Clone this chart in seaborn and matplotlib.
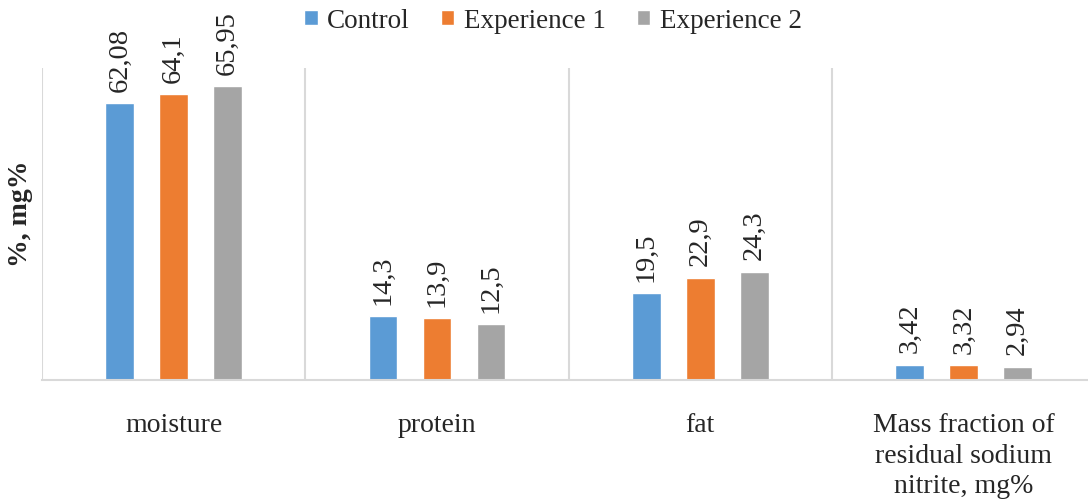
import seaborn as sns
import pandas as pd
import matplotlib.pyplot as plt

categories = ["moisture", "protein", "fat",
              "Mass fraction of\nresidual sodium\nnitrite, mg%"]
groups = ["Control", "Experience 1", "Experience 2"]
control = [62.08, 14.3, 19.5, 3.42]
exp1 = [64.1, 13.9, 22.9, 3.32]
exp2 = [65.95, 12.5, 24.3, 2.94]
colors = ["#5B9BD5", "#ED7D31", "#A5A5A5"]

rows = []
for g, vals in zip(groups, [control, exp1, exp2]):
    for c, v in zip(categories, vals):
        rows.append({"category": c, "group": g, "value": v})
df = pd.DataFrame(rows)

sns.set_theme(style="white")
plt.rcParams['font.family'] = ['Liberation Serif', 'DejaVu Serif']

fig = plt.figure(figsize=(10.88, 5.02), dpi=100)
ax = fig.add_axes([42 / 1088, 1 - 381 / 502, 1046 / 1088, 312 / 502])

sns.barplot(data=df, x="category", y="value", hue="group", order=categories,
            hue_order=groups, palette=colors, width=0.615, gap=0.47,
            saturation=1, ax=ax, legend=True)

for cont, vals in zip(ax.containers, [control, exp1, exp2]):
    labels = [f"{v:g}".replace('.', ',') for v in vals]
    ax.bar_label(cont, labels=labels, rotation=90, padding=9, fontsize=20.5)

ax.set_xlim(-0.5, -0.5 + 1046 / 263.3)
ax.set_ylim(0, 70)
ax.set_yticks([])
for x in [-0.5, 0.5, 1.5, 2.5, 3.5]:
    ax.axvline(x, color="#d9d9d9", lw=1.5, zorder=0)
for s in ["left", "right", "top"]:
    ax.spines[s].set_visible(False)
ax.spines["bottom"].set_color("#d9d9d9")
ax.spines["bottom"].set_linewidth(1.5)

ax.set_xlabel("")
ax.tick_params(axis="x", length=0, pad=23, labelsize=20)
for t in ax.get_xticklabels():
    t.set_multialignment("center")
    t.set_linespacing(1.3)

ax.set_ylabel("%, mg%", fontsize=20, fontweight="bold")
ax.yaxis.set_label_coords(-9 / 1046, 0.535)

handles, labels = ax.get_legend_handles_labels()
ax.get_legend().remove()
fig.legend(handles, labels, loc="upper center", bbox_to_anchor=(553 / 1088, 1.03),
           ncol=3, frameon=False, fontsize=19.5, handlelength=0.5, handleheight=0.45,
           handletextpad=0.35, columnspacing=1.15)

plt.savefig("out.png", dpi=100)
